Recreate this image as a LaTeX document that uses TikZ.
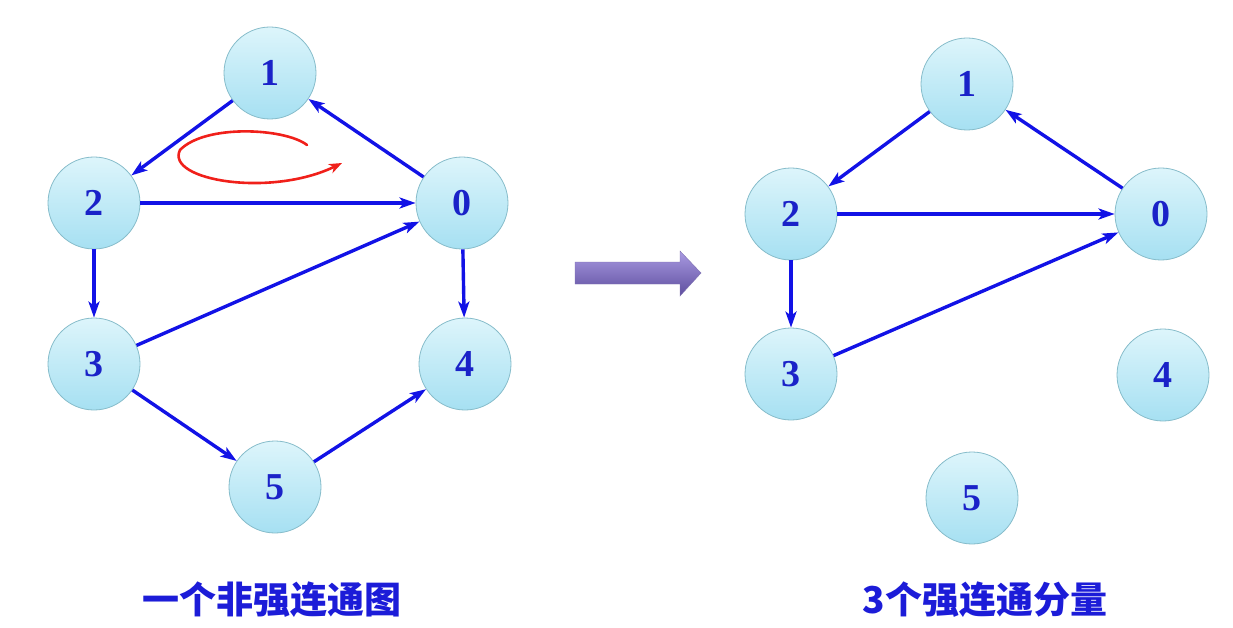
\documentclass[tikz,border=0pt]{standalone}
\usepackage{fontspec}
\setmainfont{Liberation Serif}
\newfontfamily\cjk{Noto Sans CJK SC}
\usetikzlibrary{arrows.meta,shadings}
\definecolor{edgeblue}{HTML}{1212E6}
\definecolor{numblue}{HTML}{1A22C8}
\definecolor{labblue}{HTML}{1C1CD8}
\definecolor{nodetop}{HTML}{DDF5FB}
\definecolor{nodebot}{HTML}{A6E0F2}
\definecolor{nodeborder}{HTML}{86BCCA}
\definecolor{purtop}{HTML}{A99AE2}
\definecolor{purbot}{HTML}{5E4E9E}
\definecolor{redline}{HTML}{F0201A}
\tikzset{
  vtx/.style={circle, minimum size=92pt, inner sep=0pt, draw=nodeborder, line width=0.8pt,
    top color=nodetop, bottom color=nodebot,
    font=\fontsize{38}{42}\selectfont\bfseries, text=numblue},
  edge/.style={draw=edgeblue, line width=3.4pt, -{Stealth[length=16pt,width=11pt,inset=4pt]}},
  lab/.style={font=\cjk\fontsize{37}{42}\selectfont\bfseries, text=labblue}
}
\begin{document}
\begin{tikzpicture}[x=1pt,y=-1pt]
\useasboundingbox (0,0) rectangle (1233,628);
% left graph
\node[vtx] (L1) at (270,73) {1};
\node[vtx] (L2) at (94,203) {2};
\node[vtx] (L0) at (462,203) {0};
\node[vtx] (L3) at (94,364) {3};
\node[vtx] (L4) at (465,364) {4};
\node[vtx] (L5) at (275,487) {5};
\draw[edge] (L1) -- (L2);
\draw[edge] (L0) -- (L1);
\draw[edge] (L2) -- (L0);
\draw[edge] (L2) -- (L3);
\draw[edge] (L3) -- (L0);
\draw[edge] (L0) -- (L4);
\draw[edge] (L3) -- (L5);
\draw[edge] (L5) -- (L4);
% red loop
\draw[redline, line width=2.6pt, line cap=round, -{Stealth[length=13pt,width=10pt,inset=4pt]}]
  (307,145) .. controls (285,128) and (205,124) .. (180,150)
  .. controls (165,180) and (270,198) .. (342,163);
% big arrow
\node[lab] (T1) at (272,600) {一个非强连通图};
\path[top color=purtop, bottom color=purbot, draw=purbot!80, line width=0.4pt]
  (575,262) -- (680,262) -- (680,251) -- (701,273) -- (680,296) -- (680,284) -- (575,284) -- cycle;
% right graph
\node[vtx] (R1) at (967,84) {1};
\node[vtx] (R2) at (791,214) {2};
\node[vtx] (R0) at (1161,214) {0};
\node[vtx] (R3) at (791,374) {3};
\node[vtx] (R4) at (1163,375) {4};
\node[vtx] (R5) at (972,498) {5};
\draw[edge] (R1) -- (R2);
\draw[edge] (R0) -- (R1);
\draw[edge] (R2) -- (R0);
\draw[edge] (R2) -- (R3);
\draw[edge] (R3) -- (R0);
\node[lab] (T2) at (985,600) {3个强连通分量};
\end{tikzpicture}
\end{document}
